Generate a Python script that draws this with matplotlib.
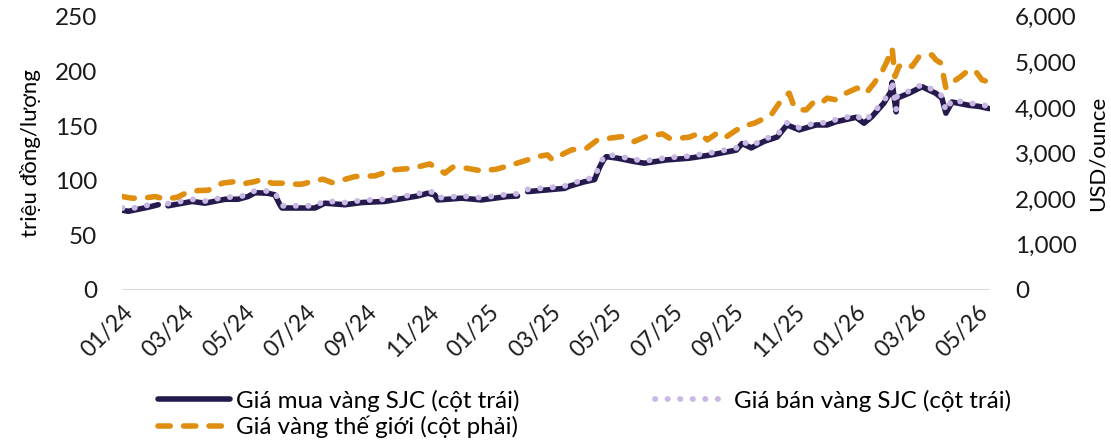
import matplotlib

matplotlib.use("Agg")
import matplotlib.pyplot as plt
import numpy as np

plt.rcParams["font.family"] = ["Lato", "DejaVu Sans"]

# x positions in months since 01/2024
tick_labels = ["01/24", "03/24", "05/24", "07/24", "09/24", "11/24", "01/25",
               "03/25", "05/25", "07/25", "09/25", "11/25", "01/26", "03/26", "05/26"]

# Giá vàng thế giới (USD/ounce) - right axis
gold_m = [0, 0.33, 0.65, 1.08, 1.41, 1.80, 2.12, 2.48, 2.81, 3.27, 3.69, 3.95,
          4.35, 4.58, 4.90, 5.26, 5.65, 5.88, 6.21, 6.57, 6.86, 7.19, 7.61, 8.27,
          8.86, 9.51, 10.07, 10.23, 10.56, 10.82, 11.27, 11.76, 12.25, 12.75,
          13.27, 13.59, 13.92, 14.08, 14.48, 14.71, 15.20, 15.56, 15.95, 16.37,
          16.76, 17.09, 17.68, 17.91, 18.24, 18.56, 18.89, 19.15, 19.44, 19.71,
          20.03, 20.29, 20.69, 20.92, 21.24, 21.50, 21.67, 21.83, 21.99, 22.16,
          22.39, 22.65, 22.88, 23.07, 23.37, 23.69, 24.05, 24.35, 24.61, 24.87,
          25.03, 25.20, 25.29, 25.42, 25.65, 25.85, 26.08, 26.31, 26.50, 26.63,
          26.80, 26.96, 27.12, 27.29, 27.45, 27.71, 27.94, 28.14, 28.30]
gold_usd = [2051, 2015, 2015, 2051, 1993, 2037, 2139, 2183, 2190, 2345, 2381, 2330,
            2381, 2433, 2345, 2345, 2323, 2323, 2381, 2433, 2359, 2410, 2491, 2506,
            2638, 2674, 2769, 2697, 2565, 2697, 2674, 2616, 2653, 2748,
            2857, 2930, 2967, 2857, 3004, 3077, 3114, 3297, 3334, 3370,
            3260, 3356, 3429, 3334, 3334, 3356, 3444, 3297, 3429, 3334,
            3480, 3590, 3663, 3737, 3846, 4100, 4249, 4323, 4029, 3956,
            3956, 4139, 4103, 4213, 4176, 4323, 4433, 4323, 4542, 4798,
            5018, 5312, 4689, 4909, 4982, 4909, 5128, 5128, 5165, 5055,
            4982, 4433, 4542, 4616, 4689, 4836, 4798, 4616, 4579]

# Giá vàng SJC (triệu đồng/lượng) - left axis, NaN = holiday gap
sjc_m = [0, 0.2, 0.85, 1.18, 1.3, 1.5, 2.29, 2.71, 3.37, 3.79, 4.12, 4.35, 4.77,
         5.0, 5.16, 5.23, 6.31, 6.63, 7.29, 7.84, 8.59, 9.25, 9.67, 10.0, 10.23,
         10.33, 10.65, 11.11, 11.76, 12.19, 12.61, 12.94, 13.05, 13.27, 13.92,
         14.48, 14.64, 15.13, 15.46, 15.62, 15.75, 15.85, 16.21, 16.76, 17.09,
         17.81, 18.56, 19.28, 20.1, 20.29, 20.59, 21.01, 21.44, 21.67, 21.76,
         22.16, 22.71, 23.07, 23.37, 24.02, 24.28, 24.54, 24.93, 25.16, 25.2,
         25.33, 25.36, 25.75, 26.18, 26.63, 26.83, 26.96, 27.16, 27.71, 28.04, 28.37]
sjc_buy = [73, 72, 75.7, 78, np.nan, 77, 81, 79.4, 83, 83, 85.5, 89, 88.5,
           87, 78, 75, 75, 79.4, 78, 80, 81, 84, 86, 88.5, 87,
           82.4, 83, 84, 82.4, 84, 85.5, 86, np.nan, 90, 91.6,
           93, 95, 99, 101, 112, 119, 122, 120.6, 117.5, 116,
           119, 120.6, 123.6, 128, 134, 130, 136, 140, 148, 151,
           146.5, 151, 151, 154, 158, 152.6, 158.7, 171, 181.6, 190,
           163, 175.5, 180, 186, 180, 175.5, 161.8, 172, 169, 168, 166]
sjc_sell = [75, 74, 77.7, 80, np.nan, 79, 83, 81.4, 85, 85, 87.5, 91, 90.5,
            89, 80, 77, 77, 81.4, 80, 82, 83, 86, 88, 90.5, 89,
            84.4, 85, 86, 84.4, 86, 87.5, 88, np.nan, 92, 93.6,
            95, 97, 101, 103, 114, 121, 124, 122.6, 119.5, 118,
            121, 122.6, 125.6, 130, 136, 132, 138, 142, 150, 153,
            148.5, 153, 153, 156, 160, 154.6, 160.7, 173, 183.6, 192,
            165, 177.5, 182, 188, 182, 177.5, 163.8, 174, 171, 170, 168]

fig = plt.figure(figsize=(11.11, 4.42), dpi=100)
ax = fig.add_axes([0.11, 0.344, 0.781, 0.618])
ax2 = ax.twinx()

buy, = ax.plot(sjc_m, sjc_buy, color="#251a4d", lw=4, solid_capstyle="round",
               solid_joinstyle="round", label="Giá mua vàng SJC (cột trái)")
sell, = ax.plot(sjc_m, sjc_sell, color="#c9b8e3", lw=4.2, dash_capstyle="round",
                linestyle=(0, (0.05, 2.1)), label="Giá bán vàng SJC (cột trái)")
world, = ax2.plot(gold_m, gold_usd, color="#df8e10", lw=4, dash_capstyle="round",
                  linestyle=(0, (2.2, 2.4)), label="Giá vàng thế giới (cột phải)")

ax.set_xlim(0, 28.4)
ax.set_ylim(0, 250)
ax2.set_ylim(0, 6000)
ax.set_yticks(range(0, 251, 50))
ax2.set_yticks(range(0, 6001, 1000))
ax2.set_yticklabels([f"{v:,}" for v in range(0, 6001, 1000)])
ax.set_xticks(range(0, 29, 2))
ax.set_xticklabels(tick_labels, rotation=45, ha="right", rotation_mode="anchor")

ax.axhline(0, color="#d9d9d9", lw=1.5, zorder=0)
for a in (ax, ax2):
    for s in a.spines.values():
        s.set_visible(False)
    a.tick_params(length=0, labelsize=17.5, colors="#1a1a1a")
ax.tick_params(axis="x", labelsize=16.5, pad=8)
ax.tick_params(axis="y", pad=18)
ax2.tick_params(axis="y", pad=18)

ax.set_ylabel("triệu đồng/lượng", fontsize=16, labelpad=10)
ax2.set_ylabel("USD/ounce", fontsize=16, labelpad=8)

fig.legend(handles=[buy, world, sell], ncol=2, frameon=False, fontsize=17.4,
           loc="upper left", bbox_to_anchor=(0.142, 0.118), handlelength=3.0,
           columnspacing=5.6, labelspacing=0.15, handletextpad=0.25,
           borderaxespad=0, borderpad=0)

fig.savefig("out.png", dpi=100)
